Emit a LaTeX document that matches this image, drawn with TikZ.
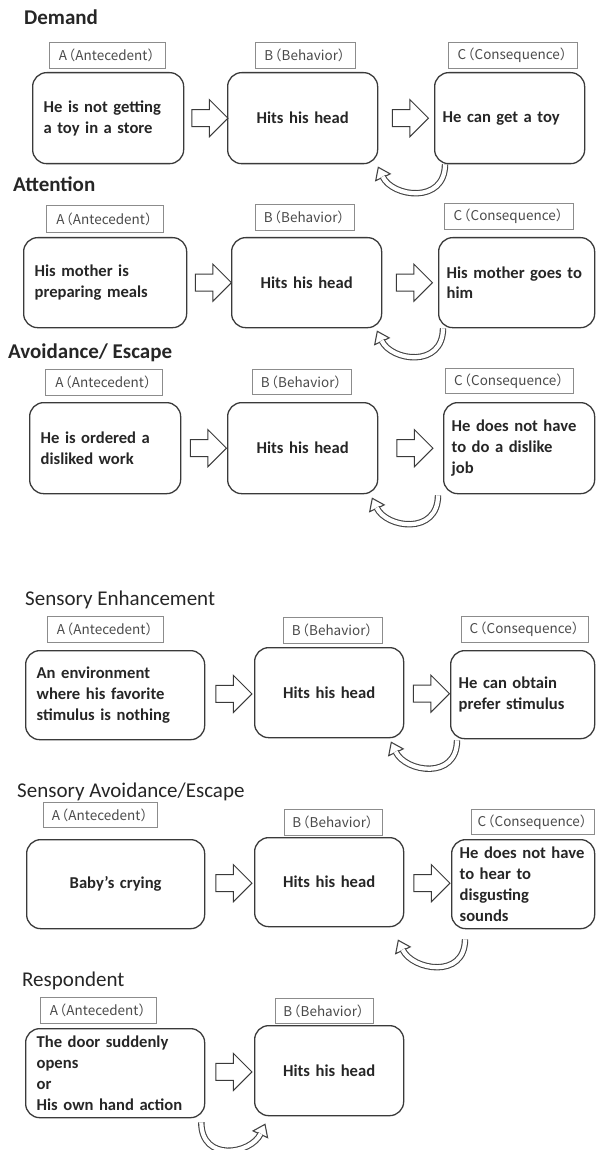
\documentclass[tikz,border=0pt]{standalone}
\usepackage{fontspec}
\setmainfont{Carlito}
\newfontfamily\jpfont{Noto Sans CJK JP}
\usetikzlibrary{positioning,calc,shapes.arrows}
\definecolor{boxline}{HTML}{3A3A3A}
\definecolor{tagline}{HTML}{8C8C8C}
\definecolor{tagtext}{HTML}{4A4A4A}
\definecolor{ink}{HTML}{262626}
\definecolor{loopline}{HTML}{444444}
\tikzset{
  title/.style={anchor=base west,inner sep=0pt,text=ink,font=\fontsize{21}{25}\selectfont\bfseries},
  subtitle/.style={title,font=\fontsize{21}{25}\selectfont},
  tag/.style 2 args={draw=tagline,line width=.8pt,anchor=north west,minimum width=#1,minimum height=#2,inner sep=0pt,text=tagtext,font=\jpfont\fontsize{13.5}{15}\selectfont},
  box/.style 2 args={draw=boxline,line width=1.3pt,rounded corners=14pt,anchor=north west,inner xsep=11pt,text width=#1,minimum height=#2,align=left,text=ink,font=\fontsize{16.6}{20.8}\selectfont\bfseries},
  cbox/.style 2 args={box={#1}{#2},inner xsep=8pt},
  blockarrow/.style={draw=boxline,line width=1pt,single arrow,single arrow head extend=10pt,minimum height=36pt,inner ysep=8pt,inner xsep=0pt},
  loopband/.style={draw=loopline,line width=1.1pt,double=white,double distance=4.2pt},
}
\newcommand*{\lbl}[2]{#1\kern-5pt（#2）\kern-5pt}
% start, tip, side of the control point near the tip
\newcommand*{\backloop}[3]{%
  \coordinate (ls) at (#1);
  \coordinate (lt) at (#2);
  \coordinate (lc) at ($(lt)+(#3,30)$);
  \coordinate (lh) at ($(lt)!11pt!(lc)$);
  \filldraw[fill=white,draw=loopline,line width=1.1pt] (lt) -- ($(lh)!8pt!90:(lt)$) -- ($(lh)!8pt!-90:(lt)$) -- cycle;
  \draw[loopband] (ls) .. controls ($(ls)+(0,40)$) and (lc) .. ($(lt)!10.3pt!(lc)$);
}

\begin{document}
\begin{tikzpicture}[x=1pt,y=-1pt]
\useasboundingbox (0,0) rectangle (595,1150);
% Demand
\node[title] (t1) at (24,25) {Demand};
\node[tag={116pt}{26pt}] (ta1) at (49,42) {\lbl{A}{Antecedent}};
\node[tag={100pt}{26pt}] (tb1) at (255,42) {\lbl{B}{Behavior}};
\node[tag={129pt}{26pt}] (tc1) at (448,42) {\lbl{C}{Consequence}};
\node[box={129pt}{91pt}] (A1) at (32,72) {He is not getting\\a toy in a store};
\node[box={128pt}{91pt},align=center] (B1) at (227,72) {Hits his head};
\node[cbox={134pt}{91pt}] (C1) at (434,72) {He can get a toy};
\node[blockarrow] (ab1) at ($(A1.east)!.5!(B1.west)$) {};
\node[blockarrow] (bc1) at ($(B1.east)!.5!(C1.west)$) {};
\backloop{$(C1.south west)+(11,0)$}{$(B1.south east)+(0,3)$}{14}
% Attention
\node[title] (t2) at (13,192) {Attention};
\node[tag={117pt}{27pt}] (ta2) at (46,205) {\lbl{A}{Antecedent}};
\node[tag={99pt}{26pt}] (tb2) at (255,204) {\lbl{B}{Behavior}};
\node[tag={129pt}{26pt}] (tc2) at (444,203) {\lbl{C}{Consequence}};
\node[box={141pt}{90pt}] (A2) at (23,237) {His mother is\\preparing meals};
\node[box={128pt}{90pt},align=center] (B2) at (231,237) {Hits his head};
\node[cbox={140pt}{90pt}] (C2) at (438,237) {His mother goes to\\him};
\node[blockarrow] (ab2) at ($(A2.east)!.5!(B2.west)$) {};
\node[blockarrow] (bc2) at ($(B2.east)!.5!(C2.west)$) {};
\backloop{$(C2.south west)+(5,0)$}{$(B2.south east)+(-5,3)$}{14}
% Avoidance/ Escape
\node[title] (t3) at (8,358) {Avoidance/ Escape};
\node[tag={117pt}{26pt}] (ta3) at (45,369) {\lbl{A}{Antecedent}};
\node[tag={99pt}{25pt}] (tb3) at (252,369) {\lbl{B}{Behavior}};
\node[tag={128pt}{25pt}] (tc3) at (445,368) {\lbl{C}{Consequence}};
\node[box={129pt}{91pt}] (A3) at (29,402) {He is ordered a\\disliked work};
\node[box={128pt}{91pt},align=center] (B3) at (227,402) {Hits his head};
\node[cbox={135pt}{91pt}] (C3) at (443,402) {He does not have\\to do a dislike\\job};
\node[blockarrow] (ab3) at ($(A3.east)!.5!(B3.west)$) {};
\node[blockarrow] (bc3) at ($(B3.east)!.5!(C3.west)$) {};
\backloop{$(C3.south west)+(-5,1)$}{$(B3.south east)+(-6,4)$}{14}
% Sensory Enhancement
\node[subtitle] (t4) at (25,605) {Sensory Enhancement};
\node[tag={116pt}{26pt}] (ta4) at (47,616) {\lbl{A}{Antecedent}};
\node[tag={99pt}{26pt}] (tb4) at (283,617) {\lbl{B}{Behavior}};
\node[tag={127pt}{26pt}] (tc4) at (461,616) {\lbl{C}{Consequence}};
\node[box={157pt}{89pt}] (A4) at (25,650) {An environment\\where his favorite\\stimulus is nothing};
\node[box={127pt}{90pt},align=center] (B4) at (254,647) {Hits his head};
\node[cbox={128pt}{88pt}] (C4) at (450,650) {He can obtain\\prefer stimulus};
\node[blockarrow] (ab4) at ($(A4.east)!.5!(B4.west)$) {};
\node[blockarrow] (bc4) at ($(B4.east)!.5!(C4.west)$) {};
\backloop{$(C4.south west)+(7,1)$}{$(B4.south east)+(-13,4)$}{14}
% Sensory Avoidance/Escape
\node[subtitle] (t5) at (17,797) {Sensory Avoidance/Escape};
\node[tag={114pt}{25pt}] (ta5) at (43,802) {\lbl{A}{Antecedent}};
\node[tag={98pt}{26pt}] (tb5) at (284,809) {\lbl{B}{Behavior}};
\node[tag={123pt}{25pt}] (tc5) at (471,809) {\lbl{C}{Consequence}};
\node[box={156pt}{89pt},align=center] (A5) at (26,839) {Baby's crying};
\node[box={127pt}{89pt},align=center] (B5) at (254,837) {Hits his head};
\node[cbox={127pt}{89pt}] (C5) at (451,839) {He does not have\\to hear to\\disgusting\\sounds};
\node[blockarrow] (ab5) at ($(A5.east)!.5!(B5.west)$) {};
\node[blockarrow] (bc5) at ($(B5.east)!.5!(C5.west)$) {};
\backloop{$(C5.south west)+(14,10)$}{$(B5.south east)+(-6,13)$}{14}
% Respondent
\node[subtitle] (t6) at (22,986) {Respondent};
\node[tag={116pt}{26pt}] (ta6) at (40,997) {\lbl{A}{Antecedent}};
\node[tag={98pt}{25pt}] (tb6) at (275,998) {\lbl{B}{Behavior}};
\node[box={157pt}{89pt}] (A6) at (25,1028) {The door suddenly\\opens\\or\\His own hand action};
\node[box={127pt}{90pt},align=center] (B6) at (254,1025) {Hits his head};
\node[blockarrow] (ab6) at ($(A6.east)!.5!(B6.west)$) {};
\backloop{$(A6.south east)+(-4,4)$}{$(B6.south west)+(11,8)$}{-14}
\end{tikzpicture}
\end{document}
